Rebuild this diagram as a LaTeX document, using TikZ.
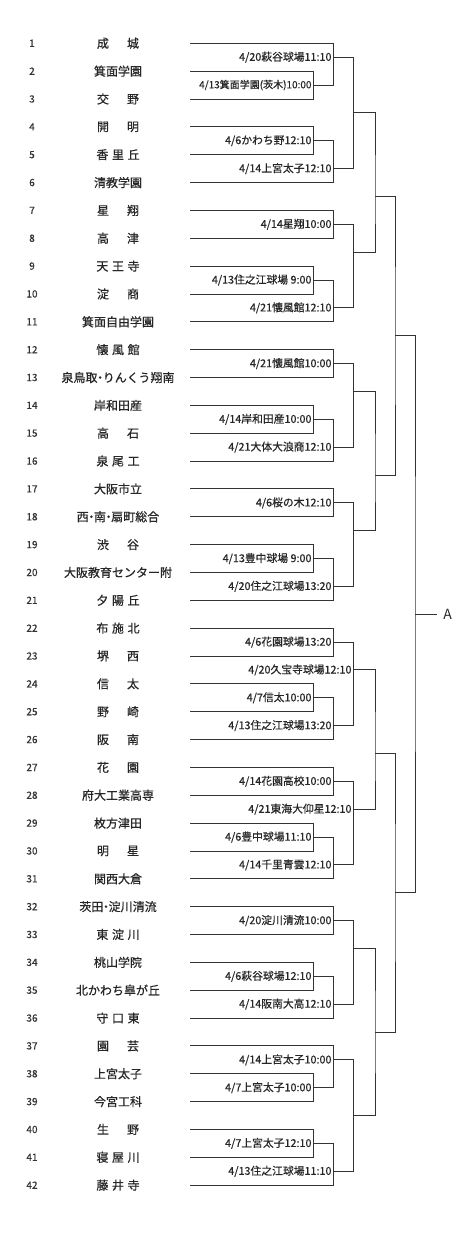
\documentclass[tikz,border=0pt]{standalone}
\usepackage{fontspec}
\setmainfont{Noto Sans CJK JP}
\newfontfamily\jpb[FakeBold=0.6]{Noto Sans CJK JP}
\newcommand\RY[1]{43.3+(#1-1)*27.85}
\newcommand\two[2]{#1\hspace{1.5em}#2}
\newcommand\three[3]{#1\hspace{0.3em}#2\hspace{0.3em}#3}
\newcommand\dt{\hspace{-0.28em}・\hspace{-0.28em}}
% match with label
\newcommand\mm[6]{%
  \coordinate (#1) at (#2,{\RY{#3}});
  \draw[br] (#4) -| (#1) |- (#5);
  \node[lbl] (lbl-#1) at ([xshift=-1.6pt]#1) {#6};}
% match without label
\newcommand\mj[5]{%
  \coordinate (#1) at (#2,{\RY{#3}});
  \draw[br] (#4) -| (#1) |- (#5);}
\begin{document}
\begin{tikzpicture}[x=1pt,y=-1pt,
  br/.style={draw=black!80, line width=0.9pt},
  lbl/.style={anchor=east, inner sep=0pt, font=\jpb\fontsize{10.8}{12}\selectfont, text=black!85},
  team/.style={font=\jpb\fontsize{12}{14}\selectfont, inner sep=0pt, text=black!85},
  num/.style={font=\jpb\fontsize{10}{11}\selectfont, inner sep=0pt, text=black!80}]
\useasboundingbox (0,0) rectangle (475,1241);
\foreach \i/\nm in {1/\two{成}{城}, 2/箕面学園, 3/\two{交}{野}, 4/\two{開}{明},
  5/\three{香}{里}{丘}, 6/清教学園, 7/\two{星}{翔}, 8/\two{高}{津},
  9/\three{天}{王}{寺}, 10/\two{淀}{商}, 11/箕面自由学園, 12/\three{懐}{風}{館},
  13/泉鳥取\dt りんくう翔南, 14/岸和田産, 15/\two{高}{石}, 16/\three{泉}{尾}{工},
  17/大阪市立, 18/西\dt 南\dt 扇町総合, 19/\two{渋}{谷}, 20/大阪教育センター附,
  21/\three{夕}{陽}{丘}, 22/\three{布}{施}{北}, 23/\two{堺}{西}, 24/\two{信}{太},
  25/\two{野}{崎}, 26/\two{阪}{南}, 27/\two{花}{園}, 28/府大工業高専,
  29/枚方津田, 30/\two{明}{星}, 31/関西大倉, 32/茨田\dt 淀川清流,
  33/\three{東}{淀}{川}, 34/桃山学院, 35/北かわち皐が丘, 36/\three{守}{口}{東},
  37/\two{園}{芸}, 38/上宮太子, 39/今宮工科, 40/\two{生}{野},
  41/\three{寝}{屋}{川}, 42/\three{藤}{井}{寺}}{
  \node[num] (n\i) at (32,{\RY{\i}}) {\i};
  \node[team] (s\i) at (118,{\RY{\i}}) {\nm};
  \coordinate (t\i) at (190,{\RY{\i}});
}
% upper half
\mm{m23}{313.3}{2.5}{t2}{t3}{\fontsize{10}{12}\selectfont 4/13箕面学園(茨木)10:00}
\mm{m1}{333.3}{1.5}{t1}{m23}{4/20萩谷球場11:10}
\mm{m45}{313.3}{4.5}{t4}{t5}{4/6かわち野12:10}
\mm{m456}{333.3}{5.5}{m45}{t6}{4/14上宮太子12:10}
\mj{q1}{353.3}{3.5}{m1}{m456}
\mm{m78}{333.3}{7.5}{t7}{t8}{4/14星翔10:00}
\mm{m910}{313.3}{9.5}{t9}{t10}{4/13住之江球場 9:00}
\mm{m911}{333.3}{10.5}{m910}{t11}{4/21懐風館12:10}
\mj{q2}{353.3}{8.5}{m78}{m911}
\mj{h1}{375}{6.5}{q1}{q2}
\mm{m1213}{333.3}{12.5}{t12}{t13}{4/21懐風館10:00}
\mm{m1415}{313.3}{14.5}{t14}{t15}{4/14岸和田産10:00}
\mm{m1416}{333.3}{15.5}{m1415}{t16}{4/21大体大浪商12:10}
\mj{q3}{353.3}{13.5}{m1213}{m1416}
\mm{m1718}{333.3}{17.5}{t17}{t18}{4/6桜の木12:10}
\mm{m1920}{313.3}{19.5}{t19}{t20}{4/13豊中球場 9:00}
\mm{m1921}{333.3}{20.5}{m1920}{t21}{4/20住之江球場13:20}
\mj{q4}{353.3}{18.5}{m1718}{m1921}
\mj{h2}{375}{16.5}{q3}{q4}
\mj{semi1}{395}{11.5}{h1}{h2}
% lower half
\mm{m2223}{333.3}{22.5}{t22}{t23}{4/6花園球場13:20}
\mm{m2425}{313.3}{24.5}{t24}{t25}{4/7信太10:00}
\mm{m2426}{333.3}{25.5}{m2425}{t26}{4/13住之江球場13:20}
\mm{q5}{353.3}{23.5}{m2223}{m2426}{4/20久宝寺球場12:10}
\mm{m2728}{333.3}{27.5}{t27}{t28}{4/14花園高校10:00}
\mm{m2930}{313.3}{29.5}{t29}{t30}{4/6豊中球場11:10}
\mm{m2931}{333.3}{30.5}{m2930}{t31}{4/14千里青雲12:10}
\mm{q6}{353.3}{28.5}{m2728}{m2931}{4/21東海大仰星12:10}
\mj{h3}{375}{26.5}{q5}{q6}
\mm{m3233}{333.3}{32.5}{t32}{t33}{4/20淀川清流10:00}
\mm{m3435}{313.3}{34.5}{t34}{t35}{4/6萩谷球場12:10}
\mm{m3436}{333.3}{35.5}{m3435}{t36}{4/14阪南大高12:10}
\mj{q7}{353.3}{33.5}{m3233}{m3436}
\mm{m3839}{313.3}{38.5}{t38}{t39}{4/7上宮太子10:00}
\mm{m3739}{333.3}{37.5}{t37}{m3839}{4/14上宮太子10:00}
\mm{m4041}{313.3}{40.5}{t40}{t41}{4/7上宮太子12:10}
\mm{m4042}{333.3}{41.5}{m4041}{t42}{4/13住之江球場11:10}
\mj{q8}{353.3}{39.5}{m3739}{m4042}
\mj{h4}{375}{36.5}{q7}{q8}
\mj{semi2}{395}{31.5}{h3}{h4}
% final
\mj{fin}{415}{21.5}{semi1}{semi2}
\coordinate (aend) at (436.7,{\RY{21.5}});
\draw[br] (fin) -- (aend);
\node[font=\fontsize{14}{16}\selectfont, inner sep=0pt, text=black!85] (A) at (447.5,{\RY{21.5}}) {A};
\end{tikzpicture}
\end{document}
